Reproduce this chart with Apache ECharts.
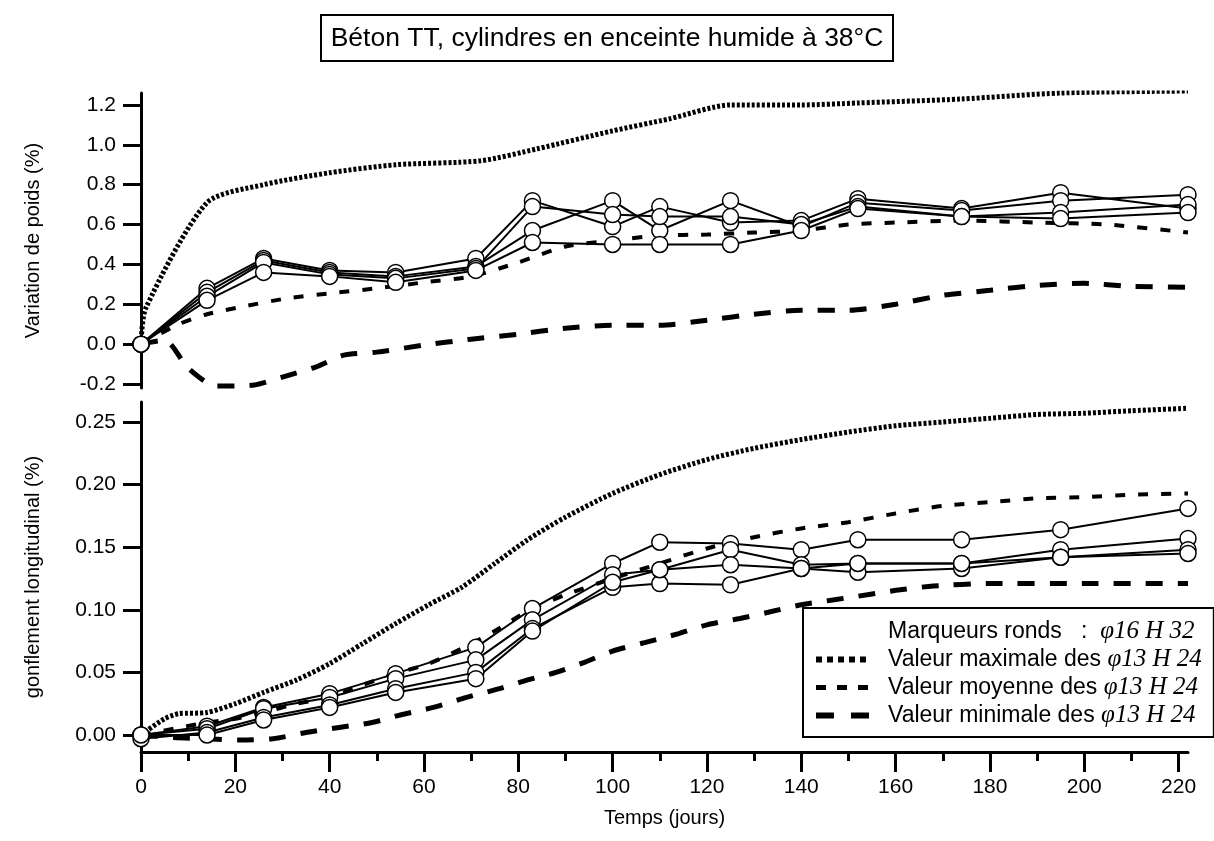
<!DOCTYPE html>
<html>
<head>
<meta charset="utf-8">
<script src="https://cdn.jsdelivr.net/npm/echarts@6/dist/echarts.min.js"></script>
<style>
html,body{margin:0;padding:0;background:#fff;}
#chart{width:1214px;height:841px;}
</style>
</head>
<body>
<div id="chart"></div>
<script>
// ---------- DATA ----------
const titleText = 'Béton TT, cylindres en enceinte humide à 38°C';
const xTicks = [0, 20, 40, 60, 80, 100, 120, 140, 160, 180, 200, 220];
const xMinorTicks = [10, 30, 50, 70, 90, 110, 130, 150, 170, 190, 210];
const yTopTicks = [-0.2, 0, 0.2, 0.4, 0.6, 0.8, 1.0, 1.2];
const yBotTicks = [0, 0.05, 0.10, 0.15, 0.20, 0.25];

// measurement days of the phi16 H32 specimens (round markers)
const markerDays = [0, 14, 26, 40, 54, 71, 83, 100, 110, 125, 140, 152, 174, 195, 222];
// weight variation (%) - round markers
const weight1 = [0, 0.28, 0.43, 0.37, 0.36, 0.43, 0.72, 0.59, 0.69, 0.61, 0.62, 0.73, 0.68, 0.76, 0.68];
const weight2 = [0, 0.26, 0.42, 0.36, 0.34, 0.39, 0.57, 0.72, 0.57, 0.72, 0.59, 0.71, 0.67, 0.72, 0.75];
const weight3 = [0, 0.24, 0.41, 0.35, 0.33, 0.38, 0.69, 0.65, 0.64, 0.64, 0.60, 0.69, 0.64, 0.66, 0.70];
const weight4 = [0, 0.22, 0.36, 0.34, 0.31, 0.37, 0.51, 0.50, 0.50, 0.50, 0.57, 0.68, 0.64, 0.63, 0.66];

// weight variation - phi13 H24 envelopes
const wMaxDays = [0, 1, 14, 26, 40, 54, 72, 84, 100, 112, 125, 140, 152, 174, 195, 222];
const wMaxVals = [0, 0.18, 0.71, 0.80, 0.86, 0.90, 0.92, 0.98, 1.07, 1.13, 1.20, 1.20, 1.21, 1.23, 1.26, 1.27];
const wMeanDays = [0, 8, 14, 22, 31, 40, 50, 60, 70, 80, 90, 100, 110, 120, 130, 140, 150, 160, 175, 190, 205, 222];
const wMeanVals = [0, 0.10, 0.15, 0.19, 0.23, 0.255, 0.28, 0.31, 0.34, 0.41, 0.49, 0.52, 0.545, 0.55, 0.56, 0.57, 0.60, 0.61, 0.62, 0.61, 0.60, 0.56];
const wMinDays = [0, 5, 10, 16, 24, 30, 37, 43, 50, 60, 70, 80, 90, 100, 110, 120, 130, 140, 150, 160, 170, 180, 190, 200, 210, 222];
const wMinVals = [0, 0.02, -0.12, -0.21, -0.205, -0.165, -0.115, -0.055, -0.04, -0.005, 0.025, 0.05, 0.08, 0.095, 0.095, 0.12, 0.15, 0.17, 0.17, 0.20, 0.245, 0.27, 0.295, 0.305, 0.29, 0.285];

// longitudinal swelling (%) - round markers
const swell1 = [0, 0.007, 0.022, 0.033, 0.049, 0.070, 0.101, 0.137, 0.154, 0.153, 0.148, 0.156, 0.156, 0.164, 0.181];
const swell2 = [0, 0.005, 0.021, 0.030, 0.045, 0.060, 0.092, 0.128, 0.132, 0.148, 0.136, 0.137, 0.137, 0.148, 0.157];
const swell3 = [-0.003, 0.002, 0.014, 0.024, 0.037, 0.050, 0.085, 0.118, 0.121, 0.120, 0.133, 0.130, 0.133, 0.142, 0.148];
const swell4 = [0, 0.000, 0.012, 0.022, 0.034, 0.045, 0.083, 0.122, 0.132, 0.136, 0.133, 0.137, 0.137, 0.142, 0.145];

// longitudinal swelling - phi13 H24 envelopes
const sMaxDays = [0, 5, 8, 14, 20, 26, 33, 40, 47, 54, 61, 68, 75, 82, 90, 100, 110, 120, 130, 140, 150, 160, 170, 180, 190, 200, 210, 222];
const sMaxVals = [0, 0.013, 0.017, 0.018, 0.025, 0.034, 0.044, 0.057, 0.073, 0.089, 0.104, 0.118, 0.137, 0.156, 0.174, 0.193, 0.208, 0.220, 0.229, 0.236, 0.242, 0.247, 0.250, 0.253, 0.256, 0.257, 0.259, 0.261];
const sMeanDays = [0, 7, 14, 20, 26, 33, 40, 47, 54, 61, 68, 75, 82, 90, 100, 110, 120, 130, 140, 150, 160, 170, 180, 190, 200, 210, 222];
const sMeanVals = [0, 0.005, 0.010, 0.013, 0.018, 0.025, 0.030, 0.040, 0.049, 0.057, 0.069, 0.083, 0.099, 0.112, 0.125, 0.137, 0.149, 0.158, 0.165, 0.170, 0.177, 0.183, 0.186, 0.189, 0.190, 0.192, 0.193];
const sMinDays = [0, 7, 14, 21, 28, 35, 42, 49, 55, 62, 69, 76, 82, 88, 94, 100, 107, 114, 120, 127, 133, 140, 147, 154, 161, 168, 180, 200, 222];
const sMinVals = [0, -0.002, -0.003, -0.004, -0.003, 0.002, 0.006, 0.010, 0.016, 0.022, 0.030, 0.037, 0.044, 0.050, 0.058, 0.067, 0.074, 0.081, 0.088, 0.093, 0.098, 0.104, 0.108, 0.112, 0.116, 0.119, 0.121, 0.121, 0.121];

const nameMarkers = 'Marqueurs ronds   :  φ16 H 32';
const nameMax = 'Valeur maximale des φ13 H 24';
const nameMean = 'Valeur moyenne des φ13 H 24';
const nameMin = 'Valeur minimale des φ13 H 24';

// ---------- CHART ----------
const pair = (xs, ys) => xs.map((x, i) => [x, ys[i]]);
const FONT = 'Liberation Sans';

const markerSeries = (vals, xi, yi) => ({
  name: nameMarkers, type: 'line', xAxisIndex: xi, yAxisIndex: yi,
  data: pair(markerDays, vals),
  symbol: 'circle', symbolSize: 16, z: 5,
  itemStyle: {color: '#fff', borderColor: '#000', borderWidth: 1.5},
  lineStyle: {color: '#000', width: 2},
  emphasis: {disabled: true}
});
const styles = {
  max: {color: '#000', width: 5, type: [3, 2]},
  mean: {color: '#000', width: 4, type: [10, 13]},
  min: {color: '#000', width: 5, type: [17, 15]}
};
const curve = (name, xs, ys, style, xi, yi) => ({
  name, type: 'line', xAxisIndex: xi, yAxisIndex: yi,
  data: pair(xs, ys), symbol: 'none', smooth: 0.25, z: 3,
  lineStyle: style, itemStyle: {color: '#000'},
  emphasis: {disabled: true}
});

const chart = echarts.init(document.getElementById('chart'), null, {renderer: 'canvas'});
chart.setOption({
  backgroundColor: '#fff',
  animation: false,
  title: {
    text: titleText, left: 'center', top: 15,
    borderColor: '#000', borderWidth: 2, padding: [10, 10, 9, 10],
    textStyle: {fontFamily: FONT, fontSize: 26.5, fontWeight: 'normal', color: '#000'}
  },
  legend: {
    orient: 'vertical', left: 803, top: 608,
    data: [
      {name: nameMarkers, lineStyle: {opacity: 0}},
      {name: nameMax, lineStyle: {width: 6, type: [6, 5]}},
      {name: nameMean, lineStyle: {width: 5, type: [10, 11]}},
      {name: nameMin, lineStyle: {width: 6, type: [18, 17]}}
    ],
    itemWidth: 53, itemHeight: 14, itemGap: 3,
    itemStyle: {opacity: 0},
    lineStyle: {width: 'inherit', type: 'inherit', color: '#000'},
    backgroundColor: '#fff', borderColor: '#000', borderWidth: 2,
    padding: [11, 12, 9, 10],
    selectedMode: false,
    formatter: n => n.replace(/(φ.*)$/, '{i|$1}'),
    textStyle: {
      fontFamily: FONT, fontSize: 23, color: '#000', lineHeight: 24, padding: [0, 0, 0, 14],
      rich: {i: {fontFamily: 'Liberation Serif', fontStyle: 'italic', fontSize: 25, color: '#000', lineHeight: 24}}
    }
  },
  grid: [
    {left: 141, top: 93, width: 1047, height: 295},
    {left: 141, top: 402, width: 1047, height: 350}
  ],
  xAxis: [
    {gridIndex: 0, type: 'value', min: 0, max: 222, show: false, splitLine: {show: false}},
    {
      gridIndex: 1, type: 'value', min: 0, max: 222, position: 'bottom',
      name: 'Temps (jours)', nameLocation: 'middle', nameGap: 56,
      nameTextStyle: {fontFamily: FONT, fontSize: 20, color: '#000'},
      axisLine: {show: true, onZero: false, lineStyle: {color: '#000', width: 3}},
      axisTick: {show: true, inside: false, length: 20, lineStyle: {color: '#000', width: 3}, customValues: xTicks},
      axisLabel: {customValues: xTicks, margin: 25, fontFamily: FONT, fontSize: 21, color: '#000'},
      splitLine: {show: false}
    },
    {
      gridIndex: 1, type: 'value', min: 0, max: 222, position: 'bottom', offset: 0,
      axisLine: {show: false, onZero: false},
      axisTick: {show: true, inside: false, length: 9, lineStyle: {color: '#000', width: 3}, customValues: xMinorTicks},
      axisLabel: {show: false},
      splitLine: {show: false}
    }
  ],
  yAxis: [
    {
      gridIndex: 0, type: 'value', min: -0.22, max: 1.26,
      name: 'Variation de poids (%)', nameLocation: 'middle', nameGap: 98, nameRotate: 90,
      nameTextStyle: {fontFamily: FONT, fontSize: 20, color: '#000'},
      axisLine: {show: true, onZero: false, lineStyle: {color: '#000', width: 3}},
      axisTick: {show: true, inside: false, length: 18, lineStyle: {color: '#000', width: 3}, customValues: yTopTicks},
      axisLabel: {customValues: yTopTicks, margin: 25, fontFamily: FONT, fontSize: 21, color: '#000',
        formatter: v => v.toFixed(1)},
      splitLine: {show: false}
    },
    {
      gridIndex: 1, type: 'value', min: -0.0136, max: 0.266,
      name: 'gonflement longitudinal (%)', nameLocation: 'middle', nameGap: 98, nameRotate: 90,
      nameTextStyle: {fontFamily: FONT, fontSize: 20, color: '#000'},
      axisLine: {show: true, onZero: false, lineStyle: {color: '#000', width: 3}},
      axisTick: {show: true, inside: false, length: 18, lineStyle: {color: '#000', width: 3}, customValues: yBotTicks},
      axisLabel: {customValues: yBotTicks, margin: 25, fontFamily: FONT, fontSize: 21, color: '#000',
        formatter: v => v.toFixed(2)},
      splitLine: {show: false}
    }
  ],
  series: [
    curve(nameMax, wMaxDays, wMaxVals, styles.max, 0, 0),
    curve(nameMean, wMeanDays, wMeanVals, styles.mean, 0, 0),
    curve(nameMin, wMinDays, wMinVals, styles.min, 0, 0),
    markerSeries(weight1, 0, 0),
    markerSeries(weight2, 0, 0),
    markerSeries(weight3, 0, 0),
    markerSeries(weight4, 0, 0),
    curve(nameMax, sMaxDays, sMaxVals, styles.max, 1, 1),
    curve(nameMean, sMeanDays, sMeanVals, styles.mean, 1, 1),
    curve(nameMin, sMinDays, sMinVals, styles.min, 1, 1),
    markerSeries(swell1, 1, 1),
    markerSeries(swell2, 1, 1),
    markerSeries(swell3, 1, 1),
    markerSeries(swell4, 1, 1)
  ]
});
</script>
</body>
</html>
